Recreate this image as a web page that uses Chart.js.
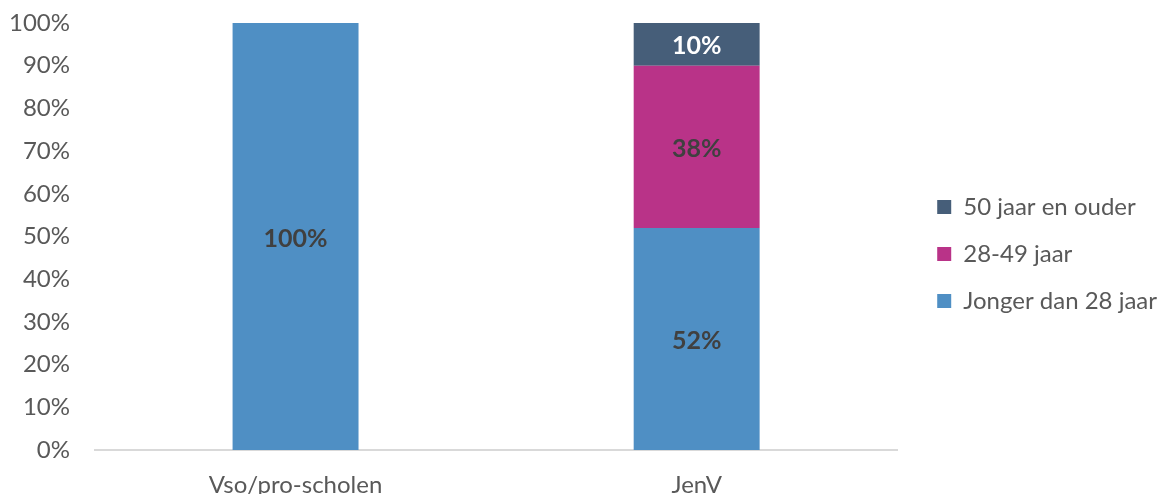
<!DOCTYPE html>
<html>
<head>
<meta charset="utf-8">
<script src="https://cdn.jsdelivr.net/npm/chart.js@4"></script>
<style>
    html, body { margin: 0; padding: 0; background: #fff; }
    #wrap { width: 1160px; height: 494px; position: relative; }
</style>
</head>
<body>
<div id="wrap"><canvas id="ageChart"></canvas></div>
<script>
const categories = ['Vso/pro-scholen', 'JenV'];
const seriesNames = ['Jonger dan 28 jaar', '28-49 jaar', '50 jaar en ouder'];
const youngValues = [100, 52];
const middleValues = [0, 38];
const olderValues = [0, 10];
const seriesColors = ['#4F8FC4', '#B93388', '#465E79'];
const labelColors = ['#404040', '#404040', '#ffffff'];

const textGrey = '#595959';
const fontFamily = 'Lato, "Open Sans", sans-serif';

// draws the percentage in the middle of each segment
const segmentLabels = {
    id: 'segmentLabels',
    afterDatasetsDraw(chart) {
        const ctx = chart.ctx;
        ctx.save();
        ctx.font = `bold 25px ${fontFamily}`;
        ctx.textAlign = 'center';
        ctx.textBaseline = 'middle';
        chart.data.datasets.forEach((ds, i) => {
            const meta = chart.getDatasetMeta(i);
            meta.data.forEach((bar, j) => {
                const v = ds.data[j];
                if (!v) return;
                ctx.fillStyle = labelColors[i];
                ctx.fillText(v + '%', bar.x, (bar.y + bar.base) / 2 + 2);
            });
        });
        ctx.restore();
    }
};

// pushes the legend a bit to the right and down, away from the bars
const legendShift = {
    id: 'legendShift',
    afterLayout(chart) {
        if (!chart.legend) return;
        chart.legend.left += 17;
        chart.legend.right += 17;
        chart.legend.top += 7;
        chart.legend.bottom += 7;
    }
};

function makeDataset(label, data, color) {
    return {
        label: label,
        data: data,
        backgroundColor: color,
        borderWidth: 0,
        barPercentage: 1,
        categoryPercentage: 0.314
    };
}

new Chart(document.getElementById('ageChart'), {
    type: 'bar',
    data: {
        labels: categories,
        datasets: [
            makeDataset(seriesNames[0], youngValues, seriesColors[0]),
            makeDataset(seriesNames[1], middleValues, seriesColors[1]),
            makeDataset(seriesNames[2], olderValues, seriesColors[2])
        ]
    },
    options: {
        responsive: true,
        maintainAspectRatio: false,
        animation: false,
        layout: {
            padding: { left: 0, top: 0, right: 10, bottom: 0 }
        },
        plugins: {
            legend: {
                position: 'right',
                reverse: true,
                labels: {
                    color: textGrey,
                    font: { family: fontFamily, size: 24 },
                    boxWidth: 14,
                    boxHeight: 14,
                    padding: 23
                }
            },
            tooltip: { enabled: false }
        },
        scales: {
            x: {
                stacked: true,
                grid: { display: false, drawTicks: false },
                border: { display: true, color: '#D9D9D9', width: 2 },
                ticks: {
                    color: textGrey,
                    font: { family: fontFamily, size: 24 },
                    padding: 21
                },
                afterFit(scale) {
                    scale.height = 44;
                }
            },
            y: {
                stacked: true,
                min: 0,
                max: 100,
                grid: { display: false, drawTicks: false },
                border: { display: false },
                ticks: {
                    stepSize: 10,
                    color: textGrey,
                    font: { family: fontFamily, size: 24 },
                    padding: 25,
                    callback: value => value + '%'
                },
                afterFit(scale) {
                    scale.width = 95;
                    scale.paddingTop = 23;
                    scale.paddingBottom = 0;
                }
            }
        }
    },
    plugins: [segmentLabels, legendShift]
});
</script>
</body>
</html>
